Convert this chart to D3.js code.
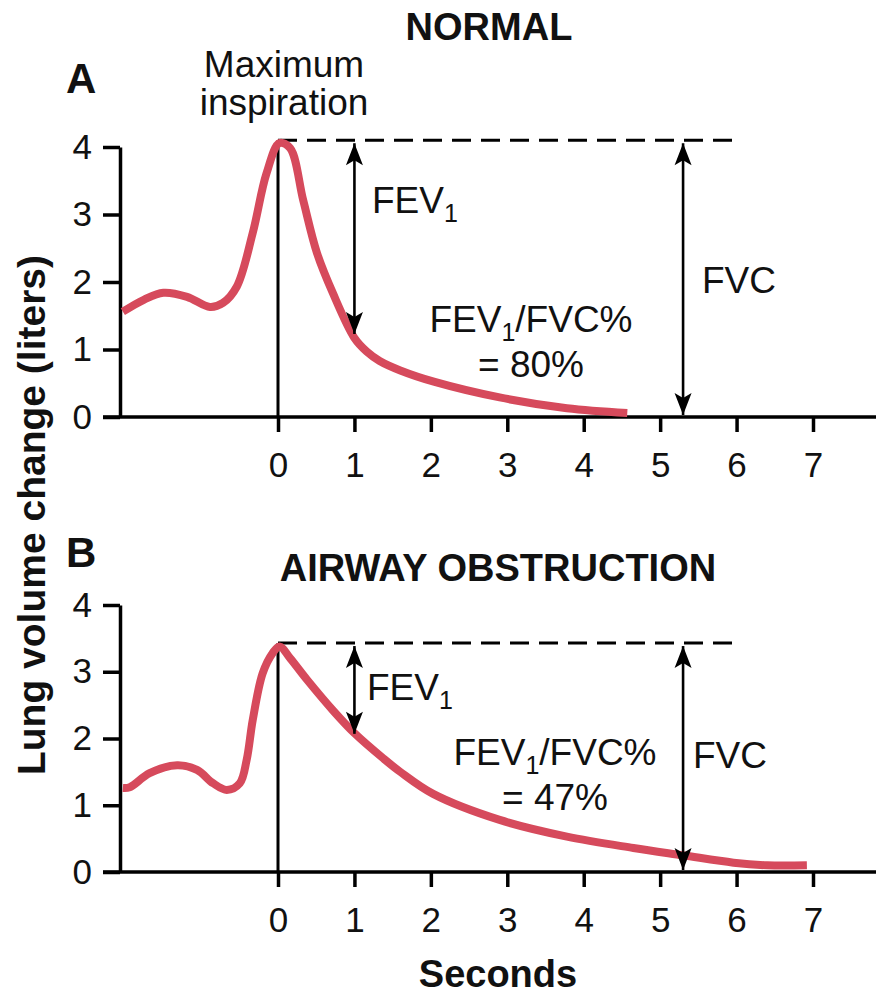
<!DOCTYPE html>
<html>
<head>
<meta charset="utf-8">
<script src="https://cdnjs.cloudflare.com/ajax/libs/d3/7.8.5/d3.min.js"></script>
<style>
body { margin: 0; background: #fff; }
svg text { font-family: "Liberation Sans", Arial, Helvetica, sans-serif; fill: #111; }
</style>
</head>
<body>
<svg id="chart" width="876" height="994"></svg>
<script>
// Spirometry traces (seconds, liters)
var timeA = [-2.03, -1.75, -1.5, -1.19, -0.89, -0.72, -0.54, -0.33, -0.15, 0.02, 0.16, 0.33, 0.51, 0.72, 1.0, 1.16, 1.33, 1.6, 2.05, 2.9, 3.78, 4.57];
var volA  = [1.56, 1.74, 1.84, 1.78, 1.63, 1.69, 1.93, 2.73, 3.61, 4.06, 3.98, 3.21, 2.43, 1.83, 1.17, 0.97, 0.83, 0.69, 0.52, 0.29, 0.13, 0.06];

var timeB = [-2.03, -1.94, -1.68, -1.32, -1.06, -0.85, -0.67, -0.5, -0.41, -0.33, -0.2, -0.07, 0.02, 0.16, 0.38, 0.72, 1.0, 1.38, 1.6, 2.03, 2.9, 3.78, 4.65, 5.3, 5.96, 6.4, 6.92];
var volB  = [1.26, 1.27, 1.48, 1.6, 1.53, 1.33, 1.23, 1.33, 1.68, 2.28, 2.98, 3.28, 3.38, 3.2, 2.88, 2.42, 2.08, 1.7, 1.5, 1.17, 0.78, 0.53, 0.36, 0.25, 0.14, 0.10, 0.10];

var xTicks = [0, 1, 2, 3, 4, 5, 6, 7];
var yTicks = [0, 1, 2, 3, 4];
var peakVol = [4.1, 3.43];     // max inspiration (dashed line)
var fev1End = [1.2, 2.04];     // volume reached after 1 second
var ratioText = ["= 80%", "= 47%"];
var titles = ["NORMAL", "AIRWAY OBSTRUCTION"];
var letters = ["A", "B"];
var fev1Time = 1;
var fvcTime = 5.3;
var dashEnd = 6;

var red = "#d64a5c";
var svg = d3.select("#chart");

// layout of each panel
var panels = [
    {yTop: 147, yBottom: 417, titleX: 489, titleY: 40, letterY: 93,
     fev: [372, 213], ratio: [531, 332], fvc: [702, 293]},
    {yTop: 605, yBottom: 872, titleX: 498, titleY: 581, letterY: 567,
     fev: [367, 700], ratio: [555, 765], fvc: [693, 768]}
];
var series = [[timeA, volA], [timeB, volB]];

// arrow head, points along +x
var defs = svg.append("defs");
defs.append("marker")
    .attr("id", "head")
    .attr("viewBox", "-1 -10 25 20")
    .attr("refX", 22).attr("refY", 0)
    .attr("markerWidth", 25).attr("markerHeight", 20)
    .attr("markerUnits", "userSpaceOnUse")
    .attr("orient", "auto-start-reverse")
    .append("path")
    .attr("d", "M0,-8.5L22,0L0,8.5L5,0Z")
    .attr("fill", "#000");

var x = d3.scaleLinear().domain([0, 7]).range([278, 813]);

panels.forEach(function(p, i) {
    var y = d3.scaleLinear().domain([0, 4]).range([p.yBottom, p.yTop]);
    var g = svg.append("g");

    // x axis
    g.append("line")
        .attr("x1", 103).attr("x2", 876)
        .attr("y1", y(0)).attr("y2", y(0))
        .attr("stroke", "#000").attr("stroke-width", 3.5);
    var xg = g.append("g")
        .attr("transform", "translate(0," + y(0) + ")")
        .call(d3.axisBottom(x).tickValues(xTicks).tickFormat(d3.format("d"))
            .tickSize(15).tickPadding(20).tickSizeOuter(0));
    xg.select(".domain").remove();

    // y axis
    var yg = g.append("g")
        .attr("transform", "translate(120,0)")
        .call(d3.axisLeft(y).tickValues(yTicks).tickFormat(d3.format("d"))
            .tickSize(17).tickPadding(11).tickSizeOuter(0));
    yg.select(".domain").attr("stroke-width", 3.5);

    g.selectAll(".tick line").attr("stroke", "#000").attr("stroke-width", 3.5);
    g.selectAll(".tick text").attr("font-size", 35).attr("fill", "#111")
        .style("font-family", "'Liberation Sans', Arial, sans-serif");

    // line at time 0 and dashed max inspiration
    g.append("line")
        .attr("x1", x(0)).attr("x2", x(0))
        .attr("y1", y(0)).attr("y2", y(peakVol[i]))
        .attr("stroke", "#000").attr("stroke-width", 3);
    g.append("line")
        .attr("x1", x(0)).attr("x2", x(dashEnd))
        .attr("y1", y(peakVol[i])).attr("y2", y(peakVol[i]))
        .attr("stroke", "#000").attr("stroke-width", 3)
        .attr("stroke-dasharray", "19,10");

    // trace
    var pts = d3.zip(series[i][0], series[i][1]);
    g.append("path")
        .datum(pts)
        .attr("fill", "none")
        .attr("stroke", red)
        .attr("stroke-width", 8)
        .attr("d", d3.line()
            .x(function(d) { return x(d[0]); })
            .y(function(d) { return y(d[1]); })
            .curve(d3.curveCatmullRom.alpha(0.5)));

    // FEV1 and FVC arrows
    [[fev1Time, fev1End[i]], [fvcTime, 0]].forEach(function(a) {
        g.append("line")
            .attr("x1", x(a[0])).attr("x2", x(a[0]))
            .attr("y1", y(peakVol[i]) + 3).attr("y2", y(a[1]) - 2)
            .attr("stroke", "#000").attr("stroke-width", 2.6)
            .attr("marker-start", "url(#head)")
            .attr("marker-end", "url(#head)");
    });

    // labels
    var fev = g.append("text").attr("x", p.fev[0]).attr("y", p.fev[1]).attr("font-size", 37);
    fev.append("tspan").text("FEV");
    fev.append("tspan").attr("font-size", 25).attr("dy", 9).text("1");

    var r = g.append("text").attr("x", p.ratio[0]).attr("y", p.ratio[1])
        .attr("font-size", 37).attr("text-anchor", "middle");
    r.append("tspan").text("FEV");
    r.append("tspan").attr("font-size", 25).attr("dy", 9).text("1");
    r.append("tspan").attr("dy", -9).text("/FVC%");
    g.append("text").attr("x", p.ratio[0]).attr("y", p.ratio[1] + 45)
        .attr("font-size", 37).attr("text-anchor", "middle").text(ratioText[i]);

    g.append("text").attr("x", p.fvc[0]).attr("y", p.fvc[1]).attr("font-size", 37).text("FVC");

    g.append("text").attr("x", p.titleX).attr("y", p.titleY)
        .attr("font-size", 38).attr("font-weight", "bold").attr("text-anchor", "middle")
        .text(titles[i]);
    g.append("text").attr("x", 66).attr("y", p.letterY)
        .attr("font-size", 42).attr("font-weight", "bold").text(letters[i]);
});

// shared labels
svg.append("text").attr("x", 284).attr("y", 77).attr("font-size", 37)
    .attr("text-anchor", "middle").text("Maximum");
svg.append("text").attr("x", 284).attr("y", 115).attr("font-size", 37)
    .attr("text-anchor", "middle").text("inspiration");

svg.append("text").attr("x", 498).attr("y", 987).attr("font-size", 38)
    .attr("font-weight", "bold").attr("text-anchor", "middle").text("Seconds");

svg.append("text")
    .attr("transform", "translate(45,515) rotate(-90)")
    .attr("font-size", 39).attr("font-weight", "bold").attr("text-anchor", "middle")
    .text("Lung volume change (liters)");
</script>
</body>
</html>
